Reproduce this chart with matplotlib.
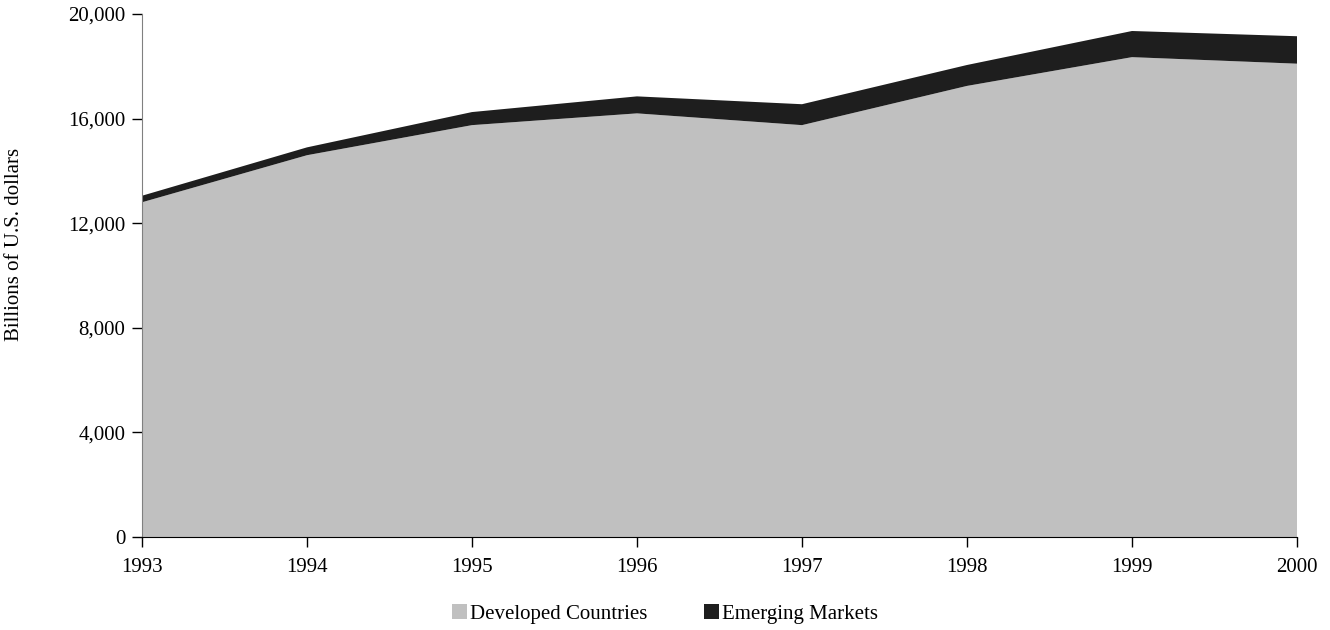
import numpy as np
import matplotlib
matplotlib.use("Agg")
from matplotlib import pyplot as plt
from matplotlib.patches import Patch
from matplotlib.ticker import FuncFormatter

plt.rcParams['font.family'] = ['Liberation Serif', 'DejaVu Serif']

years = [1993, 1994, 1995, 1996, 1997, 1998, 1999, 2000]
developed = [12800, 14600, 15750, 16200, 15750, 17250, 18350, 18100]
emerging = [250, 300, 500, 650, 800, 800, 1000, 1050]
labels = ["Developed Countries", "Emerging Markets"]
colors = ["#c0c0c0", "#1e1e1e"]

fs = 15
fig = plt.figure(figsize=(13.3, 6.3), dpi=100)
ax = fig.add_axes([142 / 1330, 1 - 537 / 630, (1297 - 142) / 1330, (537 - 14) / 630])

ax.stackplot(years, developed, emerging, colors=colors, linewidth=0)

ax.set_xlim(1993, 2000)
ax.set_ylim(0, 20000)
ax.set_yticks(np.arange(0, 20001, 4000))
ax.yaxis.set_major_formatter(FuncFormatter(lambda v, p: f"{int(v):,}"))
ax.set_xticks(years)

for s in ["top", "right"]:
    ax.spines[s].set_visible(False)
ax.spines["left"].set_color("#808080")
ax.spines["bottom"].set_color("black")
ax.tick_params(axis="y", direction="out", length=7, width=1, color="black",
               labelsize=fs, pad=5)
ax.tick_params(axis="x", direction="out", length=7, width=1, labelsize=fs, pad=8)

fig.text(15 / 1330, 1 - 244 / 630, "Billions of U.S. dollars", rotation=90,
         fontsize=fs, ha="center", va="center")

handles = [Patch(facecolor=c, edgecolor="none") for c in colors]
fig.legend(handles, labels, loc="center", bbox_to_anchor=(0.5, 1 - 614 / 630),
           ncol=2, frameon=False, fontsize=fs, handlelength=0.72, handleheight=0.72,
           handletextpad=0.15, columnspacing=2.7, borderpad=0)

fig.savefig("out.png", dpi=100)
